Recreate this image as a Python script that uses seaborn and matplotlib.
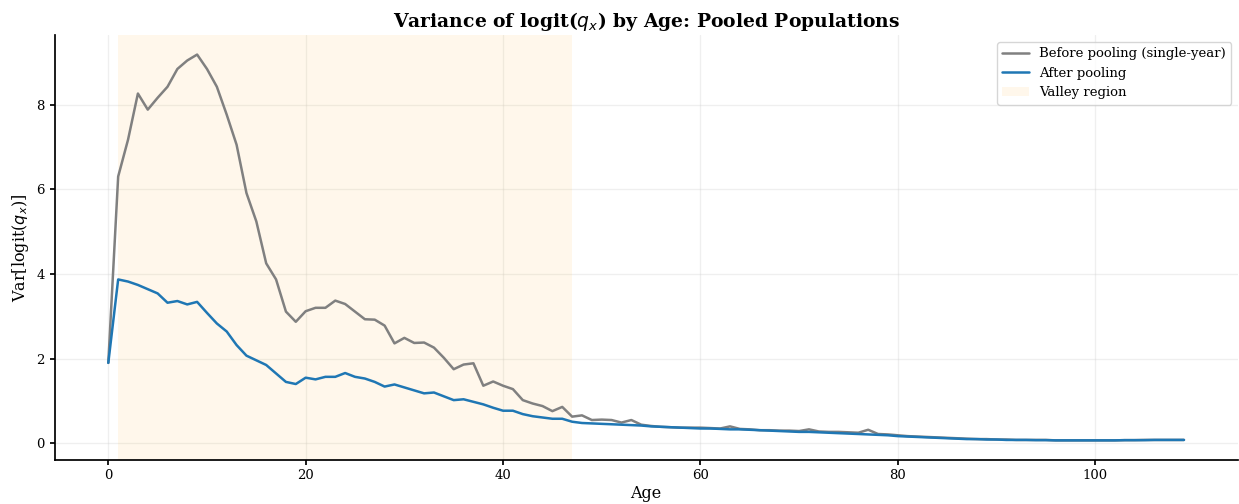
import numpy as np
import pandas as pd
import matplotlib.pyplot as plt
import seaborn as sns

# ─── DATA ────────────────────────────────────────────────────────────────────
ages = list(range(0, 110))

var_before = [
    1.90, 6.30, 7.17, 8.26, 7.88, 8.16, 8.42, 8.84, 9.04, 9.18,
    8.84, 8.42, 7.76, 7.05, 5.91, 5.24, 4.25, 3.87, 3.11, 2.87,
    3.12, 3.20, 3.20, 3.37, 3.29, 3.11, 2.93, 2.92, 2.78, 2.36,
    2.49, 2.37, 2.38, 2.26, 2.02, 1.75, 1.86, 1.89, 1.36, 1.46,
    1.36, 1.28, 1.02, 0.94, 0.88, 0.76, 0.86, 0.63, 0.66, 0.55,
    0.56, 0.55, 0.49, 0.55, 0.44, 0.41, 0.39, 0.38, 0.37, 0.37,
    0.37, 0.36, 0.35, 0.40, 0.34, 0.33, 0.31, 0.31, 0.30, 0.30,
    0.29, 0.33, 0.28, 0.27, 0.27, 0.26, 0.25, 0.32, 0.22, 0.21,
    0.19, 0.17, 0.16, 0.15, 0.14, 0.13, 0.12, 0.11, 0.10, 0.10,
    0.09, 0.09, 0.08, 0.08, 0.08, 0.08, 0.07, 0.07, 0.07, 0.07,
    0.07, 0.07, 0.07, 0.075, 0.075, 0.08, 0.08, 0.08, 0.08, 0.08,
]

var_after = [
    1.90, 3.87, 3.82, 3.74, 3.64, 3.54, 3.32, 3.36, 3.28, 3.34,
    3.08, 2.83, 2.64, 2.32, 2.07, 1.96, 1.85, 1.65, 1.45, 1.40,
    1.55, 1.51, 1.57, 1.57, 1.66, 1.57, 1.53, 1.45, 1.34, 1.39,
    1.32, 1.25, 1.18, 1.20, 1.11, 1.02, 1.04, 0.98, 0.92, 0.84,
    0.77, 0.77, 0.69, 0.64, 0.61, 0.58, 0.58, 0.51, 0.48, 0.47,
    0.46, 0.45, 0.44, 0.43, 0.42, 0.40, 0.39, 0.38, 0.37, 0.36,
    0.35, 0.35, 0.34, 0.33, 0.33, 0.32, 0.31, 0.30, 0.29, 0.28,
    0.27, 0.27, 0.26, 0.25, 0.24, 0.23, 0.22, 0.21, 0.20, 0.19,
    0.17, 0.16, 0.15, 0.14, 0.13, 0.12, 0.11, 0.10, 0.10, 0.09,
    0.09, 0.08, 0.08, 0.08, 0.075, 0.075, 0.07, 0.07, 0.07, 0.07,
    0.07, 0.07, 0.07, 0.075, 0.075, 0.075, 0.08, 0.08, 0.08, 0.08,
]

valley_start, valley_end = 1, 47

# ─── PLOT ────────────────────────────────────────────────────────────────────
sns.set_theme(style="ticks")
plt.rcParams["font.family"] = ["DejaVu Serif"]
plt.rcParams.update({"text.color": "black", "axes.labelcolor": "black",
                     "xtick.color": "black", "ytick.color": "black",
                     "axes.edgecolor": "black"})

df = pd.DataFrame({"age": ages, "before": var_before, "after": var_after})

fig, ax = plt.subplots(figsize=(12.39, 5.04), dpi=100)

ax.axvspan(valley_start, valley_end, color="#FFA500", alpha=0.08,
           lw=0, label="Valley region")
sns.lineplot(data=df, x="age", y="before", color="gray", lw=1.8,
             label="Before pooling (single-year)", ax=ax)
sns.lineplot(data=df, x="age", y="after", color="#1f77b4", lw=1.8,
             label="After pooling", ax=ax)

ax.set_title(r"Variance of logit($q_x$) by Age: Pooled Populations",
             fontsize=13.5, fontweight="bold", pad=6)
ax.set_xlabel("Age", fontsize=11.5, labelpad=2)
ax.set_ylabel(r"Var[logit($q_x$)]", fontsize=11.5)
ax.tick_params(labelsize=9.5, length=3.5, pad=3.5)
ax.grid(True, alpha=0.3)
sns.despine(ax=ax)

handles, labels = ax.get_legend_handles_labels()
order = [labels.index("Before pooling (single-year)"),
         labels.index("After pooling"),
         labels.index("Valley region")]
ax.legend([handles[i] for i in order], [labels[i] for i in order],
          loc="upper right", fontsize=9.5, frameon=True)

fig.subplots_adjust(left=0.044, right=0.999, top=0.93, bottom=0.088)
fig.savefig("out.png", dpi=100)
